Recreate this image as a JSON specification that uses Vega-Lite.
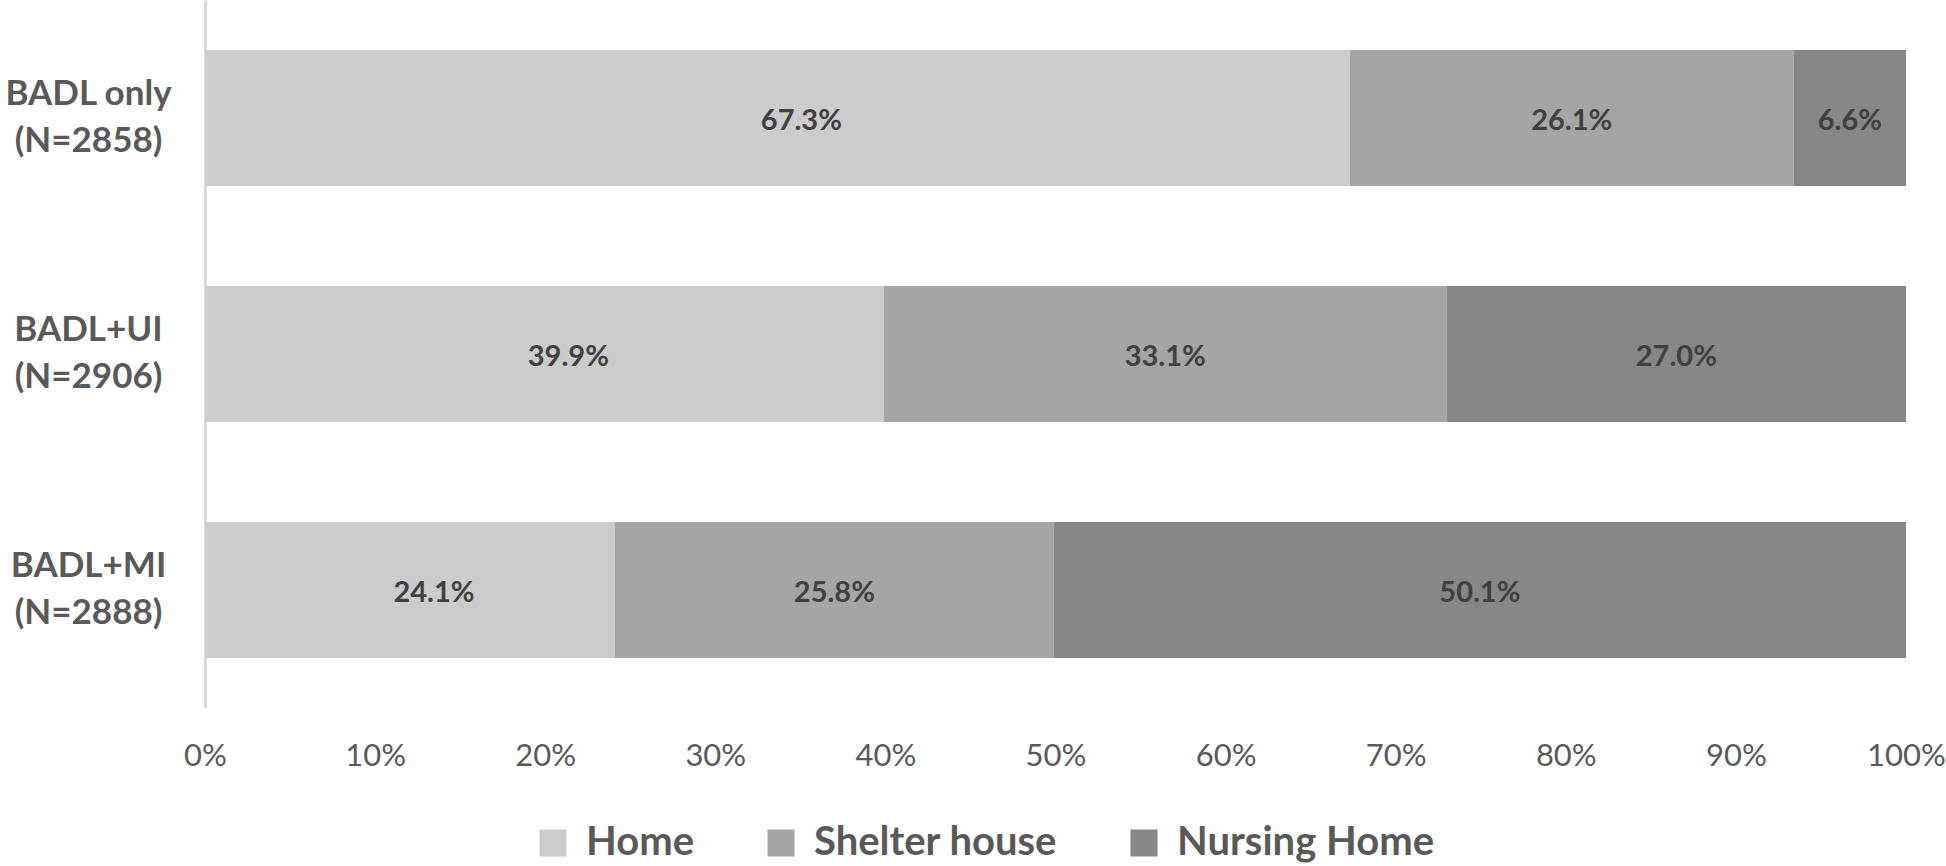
{
  "$schema": "https://vega.github.io/schema/vega-lite/v6.json",
  "autosize": "none",
  "width": 1701,
  "height": 708,
  "padding": {"left": 205, "top": 0, "right": 40, "bottom": 158},
  "background": "white",
  "config": {
    "view": {"stroke": null},
    "font": "Lato"
  },
  "data": {
    "values": [
      {"group": "BADL only|(N=2858)", "loc": "Home", "k": 1, "pct": 0.673},
      {"group": "BADL only|(N=2858)", "loc": "Shelter house", "k": 2, "pct": 0.261},
      {"group": "BADL only|(N=2858)", "loc": "Nursing Home", "k": 3, "pct": 0.066},
      {"group": "BADL+UI|(N=2906)", "loc": "Home", "k": 1, "pct": 0.399},
      {"group": "BADL+UI|(N=2906)", "loc": "Shelter house", "k": 2, "pct": 0.331},
      {"group": "BADL+UI|(N=2906)", "loc": "Nursing Home", "k": 3, "pct": 0.270},
      {"group": "BADL+MI|(N=2888)", "loc": "Home", "k": 1, "pct": 0.241},
      {"group": "BADL+MI|(N=2888)", "loc": "Shelter house", "k": 2, "pct": 0.258},
      {"group": "BADL+MI|(N=2888)", "loc": "Nursing Home", "k": 3, "pct": 0.501}
    ]
  },
  "transform": [
    {"stack": "pct", "groupby": ["group"], "sort": [{"field": "k"}], "as": ["x0", "x1"]}
  ],
  "encoding": {
    "y": {
      "field": "group",
      "type": "nominal",
      "sort": null,
      "scale": {"paddingInner": 0.424, "paddingOuter": 0.212},
      "axis": {
        "title": null,
        "labelExpr": "split(datum.label, '|')",
        "labelFont": "Lato",
        "labelFontWeight": "bold",
        "labelFontSize": 35,
        "labelColor": "#595959",
        "labelAlign": "center",
        "labelBaseline": "middle",
        "labelLineHeight": 47,
        "labelPadding": 117,
        "labelOffset": -24,
        "ticks": false,
        "tickSize": 0,
        "domainColor": "#d9d9d9",
        "domainWidth": 3,
        "grid": false,
        "labelLimit": 400
      }
    }
  },
  "layer": [
    {
      "mark": {"type": "bar"},
      "encoding": {
        "x": {
          "field": "x0",
          "type": "quantitative",
          "scale": {"domain": [0, 1], "nice": false},
          "axis": {
            "title": null,
            "format": "%",
            "values": [0, 0.1, 0.2, 0.3, 0.4, 0.5, 0.6, 0.7, 0.8, 0.9, 1],
            "labelFont": "Lato",
            "labelFontSize": 31,
            "labelColor": "#595959",
            "labelPadding": 33,
            "ticks": false,
            "tickSize": 0,
            "domain": false,
            "grid": false,
            "labelFlush": false
          }
        },
        "x2": {"field": "x1"},
        "color": {
          "field": "loc",
          "type": "nominal",
          "scale": {
            "domain": ["Home", "Shelter house", "Nursing Home"],
            "range": ["#cccccc", "#a5a5a5", "#878787"]
          },
          "legend": {
            "title": null,
            "orient": "none",
            "direction": "horizontal",
            "legendX": 328,
            "legendY": 823,
            "symbolType": "square",
            "symbolSize": 729,
            "symbolStrokeWidth": 0,
            "symbolOpacity": 1,
            "labelFont": "Lato",
            "labelFontWeight": "bold",
            "labelFontSize": 40,
            "labelColor": "#595959",
            "labelOffset": 13,
            "columnPadding": 66,
            "padding": 0,
            "labelLimit": 500
          }
        }
      }
    },
    {
      "transform": [
        {"filter": "datum.loc === 'Home'"},
        {"fold": ["x0", "x1"], "as": ["edge", "xv"]},
        {"aggregate": [{"op": "mean", "field": "xv", "as": "mid"}], "groupby": ["group", "loc", "pct"]}
      ],
      "mark": {"type": "text", "font": "Lato", "fontWeight": "bold", "fontSize": 29, "color": "#404040", "baseline": "middle", "align": "center", "dx": 24, "dy": 3},
      "encoding": {
        "x": {"field": "mid", "type": "quantitative"},
        "text": {"field": "pct", "type": "quantitative", "format": ".1%"}
      }
    },
    {
      "transform": [
        {"filter": "datum.loc !== 'Home'"},
        {"fold": ["x0", "x1"], "as": ["edge", "xv"]},
        {"aggregate": [{"op": "mean", "field": "xv", "as": "mid"}], "groupby": ["group", "loc", "pct"]}
      ],
      "mark": {"type": "text", "font": "Lato", "fontWeight": "bold", "fontSize": 29, "color": "#404040", "baseline": "middle", "align": "center", "dy": 3},
      "encoding": {
        "x": {"field": "mid", "type": "quantitative"},
        "text": {"field": "pct", "type": "quantitative", "format": ".1%"}
      }
    }
  ]
}
